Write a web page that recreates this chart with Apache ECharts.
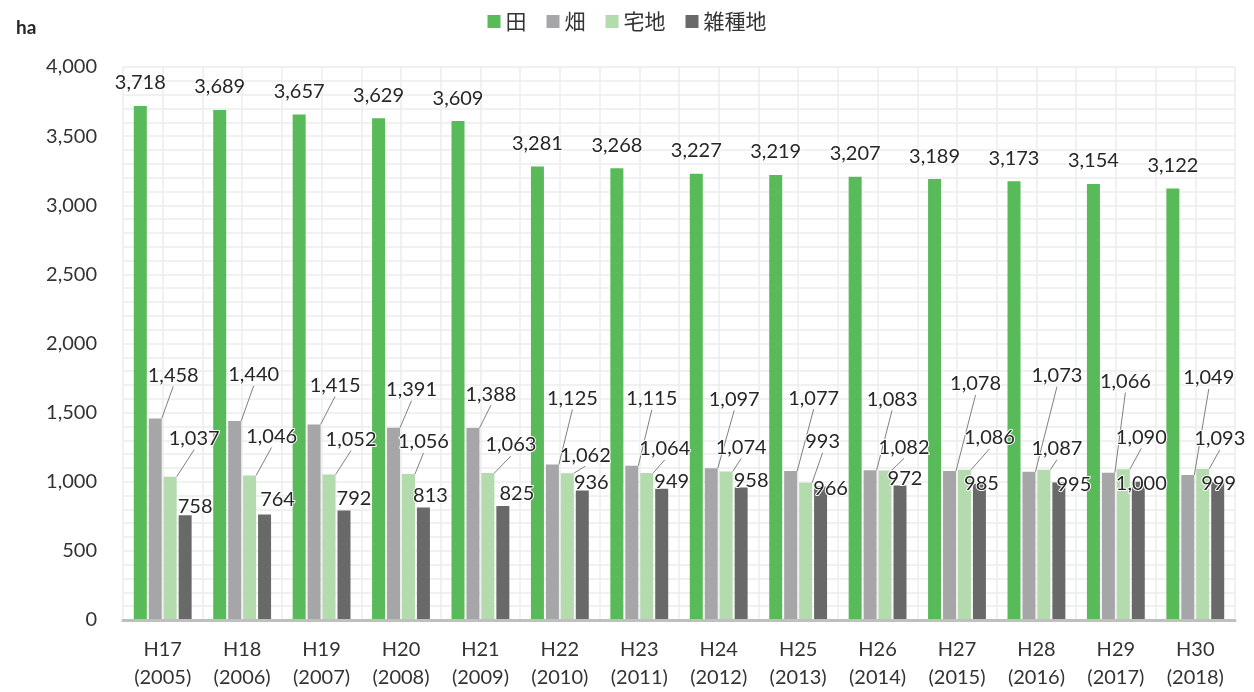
<!DOCTYPE html>
<html>
<head>
<meta charset="utf-8">
<script src="https://cdn.jsdelivr.net/npm/echarts@6/dist/echarts.min.js"></script>
<style>
  html, body { margin: 0; padding: 0; background: #fff; }
  #main { width: 1254px; height: 692px; }
</style>
</head>
<body>
<div id="main"></div>
<script>
  var categories = ['H17\n(2005)', 'H18\n(2006)', 'H19\n(2007)', 'H20\n(2008)', 'H21\n(2009)',
    'H22\n(2010)', 'H23\n(2011)', 'H24\n(2012)', 'H25\n(2013)', 'H26\n(2014)',
    'H27\n(2015)', 'H28\n(2016)', 'H29\n(2017)', 'H30\n(2018)'];
  var seriesNames = ['田', '畑', '宅地', '雑種地'];
  var paddy = [3718, 3689, 3657, 3629, 3609, 3281, 3268, 3227, 3219, 3207, 3189, 3173, 3154, 3122];
  var field = [1458, 1440, 1415, 1391, 1388, 1125, 1115, 1097, 1077, 1083, 1078, 1073, 1066, 1049];
  var residential = [1037, 1046, 1052, 1056, 1063, 1062, 1064, 1074, 993, 1082, 1086, 1087, 1090, 1093];
  var misc = [758, 764, 792, 813, 825, 936, 949, 958, 966, 972, 985, 995, 1000, 999];

  // label nudges (px) so the labels sit where the original placed them
  var fieldShift = [[18,-29],[19,-32],[21,-25],[18,-24],[18,-20],[20,-52],[20,-53],[23,-55],[23,-59],[22,-57],[26,-73],[28,-82],[17,-77],[21,-83]];
  var residentialShift = [[24,-24],[22,-25],[22,-21],[15,-18],[23,-14],[18,-4],[18,-10],[15,-10],[17,-27],[19,-9],[25,-18],[13,-7],[18,-18],[17,-16]];
  var miscShift = [[10,5],[13,-1],[10,2],[7,2],[14,2],[9,6],[10,7],[10,7],[10,16],[5,7],[2,14],[15,16],[3,16],[1,16]];

  var colors = ['#58BA58', '#A6A6A9', '#B3DBAD', '#696969'];
  var gridColor = '#EDEDEE';
  var numFont = 'Lato, "Noto Sans", sans-serif';

  function fmt(v) { return v.toLocaleString('en-US'); }

  function shifter(shift) {
    return function (p) {
      var s = shift[p.dataIndex];
      return { dx: s[0], dy: s[1] };
    };
  }

  function makeSeries(i, data, shift, line) {
    var s = {
      name: seriesNames[i],
      type: 'bar',
      data: data,
      barWidth: 13,
      barGap: '15%',
      itemStyle: { color: colors[i] },
      label: {
        show: true,
        position: 'top',
        distance: i === 0 ? 13 : 4,
        fontFamily: numFont,
        fontSize: 20,
        color: '#262626',
        textBorderColor: '#fff',
        textBorderWidth: 2,
        formatter: function (p) { return fmt(p.value); }
      }
    };
    if (shift) s.labelLayout = shifter(shift);
    if (line) s.labelLine = { show: true, lineStyle: { color: '#808080', width: 1 } };
    return s;
  }

  var halfTicks = [];
  for (var k = 0; k < categories.length * 2; k++) halfTicks.push('');

  var myChart = echarts.init(document.getElementById('main'));
  var options = {
    backgroundColor: '#fff',
    animation: false,
    title: {
      text: 'ha',
      left: 11,
      top: 13,
      textStyle: { fontFamily: numFont, fontSize: 19, fontWeight: 'bold', color: '#262626' }
    },
    legend: {
      data: seriesNames,
      top: 6,
      left: 'center',
      icon: 'rect',
      itemWidth: 13,
      itemHeight: 13,
      itemGap: 20,
      textStyle: { fontFamily: '"Noto Sans CJK JP", sans-serif', fontSize: 21, color: '#333' }
    },
    grid: { left: 123, right: 19, top: 67, bottom: 72 },
    xAxis: [{
      type: 'category',
      data: categories,
      axisLine: { lineStyle: { color: '#BFBFBF', width: 3 } },
      axisTick: { show: false },
      axisLabel: { fontFamily: numFont, fontSize: 20, lineHeight: 28, color: '#333', margin: 16 },
      z: 5
    }, {
      type: 'category',
      data: halfTicks,
      position: 'bottom',
      axisLine: { show: false },
      axisTick: { show: false },
      axisLabel: { show: false },
      splitLine: { show: true, lineStyle: { color: gridColor, width: 1.5 } }
    }],
    yAxis: {
      type: 'value',
      min: 0,
      max: 4000,
      interval: 500,
      axisLine: { show: false },
      axisTick: { show: false },
      axisLabel: {
        fontFamily: numFont, fontSize: 20, color: '#333', margin: 26,
        formatter: function (v) { return fmt(v); }
      },
      splitLine: { lineStyle: { color: gridColor, width: 1.5 } },
      minorTick: { show: false, splitNumber: 5 },
      minorSplitLine: { show: true, lineStyle: { color: gridColor, width: 1.5 } }
    },
    series: [
      makeSeries(0, paddy, null, false),
      makeSeries(1, field, fieldShift, true),
      makeSeries(2, residential, residentialShift, true),
      makeSeries(3, misc, miscShift, false)
    ]
  };
  myChart.setOption(options);
</script>
</body>
</html>
